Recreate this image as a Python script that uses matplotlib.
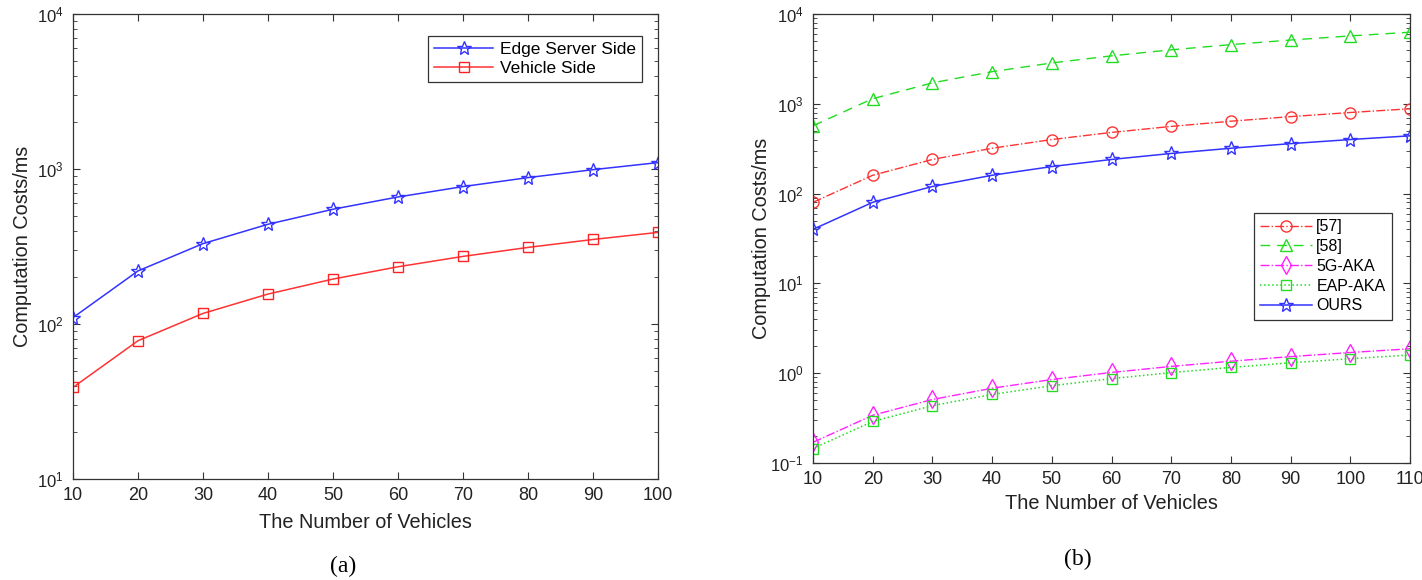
import numpy as np
import matplotlib.pyplot as plt
from matplotlib.ticker import LogLocator, NullFormatter

# (a) data
veh_a = [10, 20, 30, 40, 50, 60, 70, 80, 90, 100]
edge_side = [110, 220, 330, 440, 550, 660, 770, 880, 990, 1100]
vehicle_side = [39, 78, 117, 156, 195, 234, 273, 312, 351, 390]

# (b) data
veh_b = [10, 20, 30, 40, 50, 60, 70, 80, 90, 100, 110]
ref57 = [80, 160, 240, 320, 400, 480, 560, 640, 720, 800, 880]
ref58 = [570, 1140, 1710, 2280, 2850, 3420, 3990, 4560, 5130, 5700, 6270]
aka5g = [0.17, 0.34, 0.51, 0.68, 0.85, 1.02, 1.19, 1.36, 1.53, 1.70, 1.87]
eapaka = [0.145, 0.29, 0.435, 0.58, 0.725, 0.87, 1.015, 1.16, 1.305, 1.45, 1.595]
ours = [40, 80, 120, 160, 200, 240, 280, 320, 360, 400, 440]

plt.rcParams['font.family'] = ['Liberation Sans', 'DejaVu Sans']
plt.rcParams['mathtext.fontset'] = 'custom'
plt.rcParams['mathtext.rm'] = 'Liberation Sans'
plt.rcParams['axes.unicode_minus'] = False

W, H = 1422, 580
fig = plt.figure(figsize=(W / 100, H / 100), dpi=100)

def px_axes(l, t, r, b):
    return fig.add_axes([l / W, 1 - b / H, (r - l) / W, (b - t) / H])

def style(ax, xlpad, ylx):
    ax.set_yscale('log')
    ax.tick_params(which='both', direction='in', top=True, right=True,
                   labelsize=13, color='#333333', labelcolor='#222222')
    ax.tick_params(which='major', length=5)
    ax.tick_params(which='minor', length=3)
    ax.tick_params(axis='x', pad=6)
    ax.tick_params(axis='y', pad=7, labelsize=12)
    ax.yaxis.set_minor_locator(LogLocator(base=10, subs=np.arange(2, 10)))
    ax.yaxis.set_minor_formatter(NullFormatter())
    for s in ax.spines.values():
        s.set_color('#333333')
        s.set_linewidth(0.9)
    ax.set_xlabel('The Number of Vehicles', fontsize=14.3, color='#222222',
                  labelpad=xlpad)
    ax.set_ylabel('Computation Costs/ms', fontsize=14.3, color='#222222')
    ax.yaxis.set_label_coords(ylx, 0.5)

# (a)
ax1 = px_axes(73, 14, 658, 479)
ax1.plot(veh_a, edge_side, color='#3333ff', marker='*', markersize=10,
         markerfacecolor='none', markeredgecolor='#3333ff', lw=1.1,
         label='Edge Server Side')
ax1.plot(veh_a, vehicle_side, color='#ff3333', marker='s', markersize=7,
         markerfacecolor='none', markeredgecolor='#ff2222', lw=1.1,
         label='Vehicle Side')
style(ax1, 6, -0.070)
ax1.set_xlim(10, 100)
ax1.set_ylim(10, 1e4)
ax1.set_xticks(veh_a)
leg1 = ax1.legend(loc='upper right', fontsize=12.5, fancybox=False,
                  edgecolor='#333333', framealpha=1, borderpad=0.35,
                  handlelength=3.4, labelspacing=0.25, handletextpad=0.4,
                  bbox_to_anchor=(0.988, 0.972))
leg1.get_frame().set_linewidth(0.9)

# (b)
ax2 = px_axes(813, 14, 1410, 463)
ax2.plot(veh_b, ref57, color='#ff3333', ls='-.', marker='o', markersize=8,
         markerfacecolor='none', lw=1.0, label='[57]')
ax2.plot(veh_b, ref58, color='#22dd22', ls=(0, (7, 5)), marker='^', markersize=9,
         markerfacecolor='none', lw=1.0, label='[58]')
ax2.plot(veh_b, aka5g, color='#ff22ff', ls='-.', marker='d', markersize=9,
         markerfacecolor='none', lw=1.0, label='5G-AKA')
ax2.plot(veh_b, eapaka, color='#22dd22', ls=':', marker='s', markersize=7,
         markerfacecolor='none', lw=1.1, label='EAP-AKA')
ax2.plot(veh_b, ours, color='#3333ff', ls='-', marker='*', markersize=10,
         markerfacecolor='none', lw=1.1, label='OURS')
style(ax2, 4, -0.070)
ax2.set_xlim(10, 110)
ax2.set_ylim(0.1, 1e4)
ax2.set_xticks(veh_b)
leg2 = ax2.legend(loc='upper right', fontsize=11.5, fancybox=False,
                  edgecolor='#333333', framealpha=1, borderpad=0.4,
                  handlelength=3.2, labelspacing=0.3, handletextpad=0.3,
                  bbox_to_anchor=(0.983, 0.575))
leg2.get_frame().set_linewidth(0.9)

fig.text(343 / W, 1 - 566 / H, '(a)', ha='center', va='center',
         fontsize=17, family='Liberation Serif')
fig.text(1078 / W, 1 - 559 / H, '(b)', ha='center', va='center',
         fontsize=17, family='Liberation Serif')

fig.savefig('out.png', dpi=100)
